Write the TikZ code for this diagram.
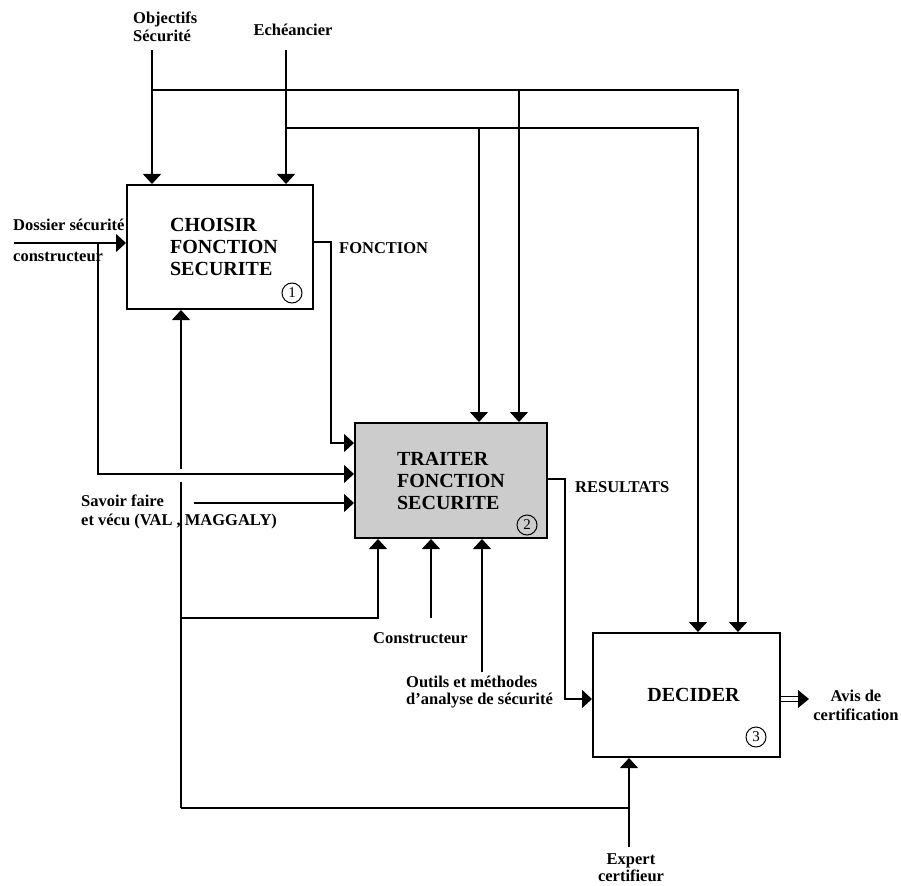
\documentclass[tikz,border=0pt]{standalone}
\usepackage{fontspec}
\setmainfont{Liberation Serif}
\usetikzlibrary{arrows.meta,calc}
\begin{document}
\begin{tikzpicture}[x=1pt,y=-1pt,
  conn/.style={line width=1.3pt},
  arr/.style={conn,-{Triangle[length=10pt,width=18pt]}},
  boxnode/.style={draw,line width=2pt,inner sep=0pt,font=\fontsize{20}{22}\selectfont\bfseries,align=left},
  lbl/.style={inner sep=0pt,font=\fontsize{16.5}{18}\selectfont\bfseries},
  num/.style={draw,circle,line width=1pt,minimum size=20pt,inner sep=0pt,font=\fontsize{15}{15}\selectfont}]
\useasboundingbox[fill=white] (0,0) rectangle (901,885);
% boxes
\node[boxnode,minimum width=186pt,minimum height=124pt] (b1) at (220,247) {\hspace*{8pt}CHOISIR\\\hspace*{8pt}FONCTION\\\hspace*{8pt}SECURITE};
\node[boxnode,fill=black!20,minimum width=192pt,minimum height=115pt] (b2) at (451,480.5) {TRAITER\\FONCTION\\SECURITE};
\node[boxnode,minimum width=187pt,minimum height=124pt] (b3) at (686.5,695) {\hspace*{14pt}\raisebox{-7pt}{DECIDER}};
\node[num] (n1) at (292,293) {1};
\node[num] (n2) at (527,525) {2};
\node[num] (n3) at (756,737) {3};
% labels
\node[lbl,anchor=west,align=left] (lobj) at (133,27) {Objectifs\\Sécurité};
\node[lbl] (lech) at (293,30) {Echéancier};
\node[lbl,anchor=west] (ldos1) at (13,225) {Dossier sécurité};
\node[lbl,anchor=west] (ldos2) at (13,257) {constructeur};
\node[lbl,anchor=west] (lfon) at (339,248) {FONCTION};
\node[lbl,anchor=west] (lres) at (575,487) {RESULTATS};
\node[lbl,anchor=west,align=left,font=\fontsize{16.5}{19}\selectfont\bfseries] (lsav) at (81,512) {Savoir faire\\et vécu (VAL , MAGGALY)};
\node[lbl,anchor=west] (lcon) at (373,638) {Constructeur};
\node[lbl,anchor=west,align=left,font=\fontsize{16.5}{17.5}\selectfont\bfseries] (lout) at (406,692) {Outils et méthodes\\d'analyse de sécurité};
\node[lbl,align=center,font=\fontsize{16.5}{19}\selectfont\bfseries] (lavis) at (856,705) {Avis de\\certification};
\node[lbl,align=center,font=\fontsize{16.5}{17}\selectfont\bfseries] (lexp) at (631,868) {Expert\\certifieur};
% coordinates
\coordinate (cObj) at (152,50);
\coordinate (cEch) at (286,50);
\coordinate (t1) at (738,90);
\coordinate (t2) at (698,128);
\coordinate (d1) at (519,90);
\coordinate (d2) at (479,128);
\coordinate (dIn) at (14,243);
\coordinate (dTurn) at (98,243);
\coordinate (dCorner) at (98,474);
\coordinate (f1) at (331,242);
\coordinate (f2) at (331,443);
\coordinate (sv) at (194,503);
\coordinate (m1) at (181,808);
\coordinate (gapLo) at (181,482);
\coordinate (gapHi) at (181,469);
\coordinate (m2) at (181,618);
\coordinate (m2r) at (378,618);
\coordinate (con) at (431,618);
\coordinate (out) at (482,672);
\coordinate (ex) at (629,847);
\coordinate (r1) at (565,479);
\coordinate (r2) at (565,699);
\coordinate (avTip) at (809,699);
\coordinate (avBase) at (798,699);
% controls
\draw[arr] (cObj) -- (cObj |- b1.north);
\draw[arr] (cEch) -- (cEch |- b1.north);
\draw[arr] (cObj |- t1) -- (t1) -- (t1 |- b3.north);
\draw[arr] (cEch |- t2) -- (t2) -- (t2 |- b3.north);
\draw[arr] (d1) -- (d1 |- b2.north);
\draw[arr] (d2) -- (d2 |- b2.north);
% inputs
\draw[arr] (dIn) -- (dIn -| b1.west);
\draw[arr] (dTurn) -- (dCorner) -- (dCorner -| b2.west);
\draw[arr] (b1.east |- f1) -- (f1) -- (f2) -- (f2 -| b2.west);
\draw[arr] (sv) -- (sv -| b2.west);
% mechanisms
\draw[conn] (m1) -- (gapLo);
\draw[arr] (gapHi) -- (gapHi |- b1.south);
\draw[conn] (m1) -- (m1 -| ex);
\draw[arr] (ex) -- (ex |- b3.south);
\draw[arr] (m2) -- (m2r) -- (m2r |- b2.south);
\draw[arr] (con) -- (con |- b2.south);
\draw[arr] (out) -- (out |- b2.south);
% outputs
\draw[arr] (b2.east |- r1) -- (r1) -- (r2) -- (r2 -| b3.west);
\draw[double,double distance=4pt,line width=1.3pt] (b3.east |- avBase) -- (avBase);
\fill (avTip) -- ($(avBase)+(0,-9)$) -- ($(avBase)+(0,9)$) -- cycle;
\end{tikzpicture}
\end{document}
